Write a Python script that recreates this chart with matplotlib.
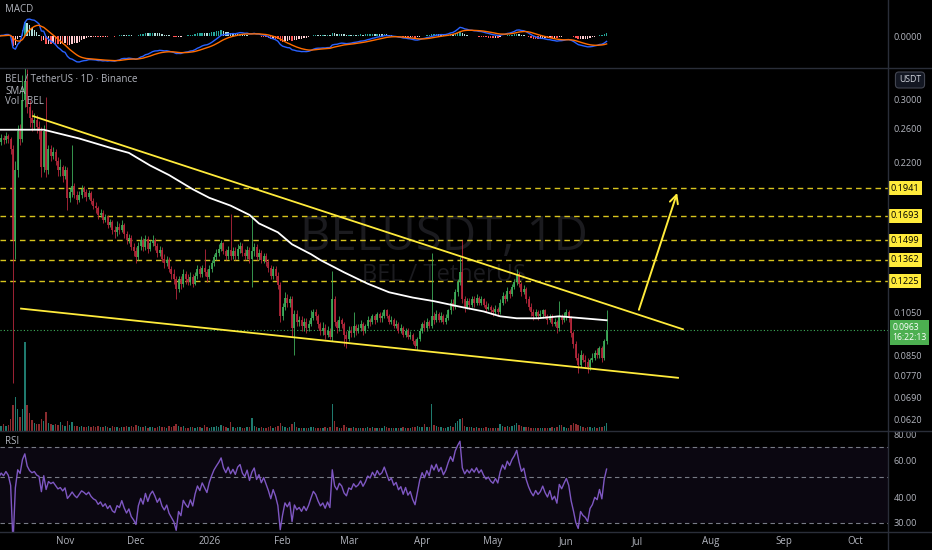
import matplotlib
matplotlib.use("Agg")
import matplotlib.pyplot as plt
from matplotlib.lines import Line2D
from matplotlib.ticker import NullLocator
import numpy as np
import pandas as pd

plt.rcParams['font.family'] = ['Open Sans', 'DejaVu Sans']

# daily candles BEL/USDT, first bar 2025-10-04
start = pd.Timestamp('2025-10-04')

closes = [
    0.244, 0.249, 0.246, 0.251, 0.247, 0.236, 0.150, 0.212, 0.258, 0.248,
    0.300, 0.330, 0.290, 0.275, 0.268, 0.272, 0.262, 0.258, 0.215, 0.258,
    0.212, 0.235, 0.228, 0.232, 0.222, 0.212, 0.215, 0.206, 0.212, 0.185,
    0.190, 0.196, 0.188, 0.183, 0.188, 0.193, 0.190, 0.186, 0.189, 0.182,
    0.178, 0.176, 0.170, 0.172, 0.166, 0.168, 0.162, 0.164, 0.158, 0.156,
    0.160, 0.158, 0.162, 0.155, 0.150, 0.152, 0.145, 0.142, 0.138, 0.146,
    0.150, 0.145, 0.151, 0.144, 0.148, 0.150, 0.146, 0.141, 0.143, 0.137,
    0.134, 0.136, 0.130, 0.127, 0.124, 0.118, 0.124, 0.121, 0.127, 0.124,
    0.122, 0.125, 0.121, 0.126, 0.130, 0.127, 0.131, 0.128, 0.125, 0.130,
    0.134, 0.138, 0.141, 0.144, 0.148, 0.142, 0.139, 0.143, 0.139, 0.142,
    0.139, 0.144, 0.146, 0.141, 0.139, 0.143, 0.137, 0.142, 0.145, 0.138,
    0.141, 0.136, 0.139, 0.135, 0.131, 0.126, 0.130, 0.126, 0.120, 0.103,
    0.108, 0.113, 0.110, 0.112, 0.097, 0.104, 0.100, 0.101, 0.098, 0.100,
    0.097, 0.099, 0.102, 0.105, 0.103, 0.099, 0.096, 0.097, 0.094, 0.096,
    0.093, 0.112, 0.100, 0.097, 0.101, 0.099, 0.094, 0.092, 0.096, 0.095,
    0.098, 0.096, 0.097, 0.099, 0.096, 0.098, 0.101, 0.100, 0.103, 0.101,
    0.104, 0.102, 0.103, 0.106, 0.103, 0.100, 0.101, 0.098, 0.099, 0.096,
    0.097, 0.094, 0.096, 0.093, 0.094, 0.091, 0.089, 0.092, 0.096, 0.099,
    0.097, 0.100, 0.098, 0.103, 0.101, 0.104, 0.101, 0.103, 0.100, 0.102,
    0.106, 0.110, 0.108, 0.116, 0.122, 0.128, 0.112, 0.108, 0.111, 0.109,
    0.112, 0.110, 0.113, 0.110, 0.112, 0.109, 0.107, 0.108, 0.106, 0.105,
    0.107, 0.105, 0.110, 0.114, 0.112, 0.117, 0.115, 0.119, 0.122, 0.127,
    0.121, 0.116, 0.118, 0.112, 0.108, 0.105, 0.103, 0.105, 0.103, 0.104,
    0.106, 0.103, 0.101, 0.103, 0.099, 0.100, 0.097, 0.103, 0.101, 0.103,
    0.105, 0.102, 0.095, 0.090, 0.084, 0.081, 0.085, 0.083, 0.082, 0.080,
    0.083, 0.084, 0.086, 0.085, 0.088, 0.084, 0.091, 0.0963,
]
highs = [
    0.250, 0.254, 0.252, 0.256, 0.254, 0.250, 0.240, 0.222, 0.265, 0.266,
    0.340, 0.365, 0.350, 0.300, 0.285, 0.282, 0.278, 0.270, 0.262, 0.265,
    0.305, 0.240, 0.240, 0.238, 0.236, 0.226, 0.224, 0.218, 0.216, 0.215,
    0.194, 0.240, 0.199, 0.191, 0.191, 0.197, 0.196, 0.193, 0.192, 0.191,
    0.185, 0.181, 0.178, 0.175, 0.174, 0.171, 0.170, 0.167, 0.166, 0.161,
    0.165, 0.163, 0.166, 0.163, 0.157, 0.155, 0.154, 0.148, 0.145, 0.149,
    0.153, 0.152, 0.154, 0.153, 0.150, 0.154, 0.152, 0.148, 0.146, 0.145,
    0.140, 0.139, 0.138, 0.132, 0.130, 0.126, 0.126, 0.126, 0.130, 0.129,
    0.127, 0.128, 0.127, 0.128, 0.133, 0.132, 0.133, 0.144, 0.130, 0.133,
    0.136, 0.140, 0.144, 0.147, 0.150, 0.149, 0.144, 0.146, 0.171, 0.145,
    0.145, 0.147, 0.149, 0.148, 0.144, 0.146, 0.145, 0.170, 0.148, 0.147,
    0.144, 0.143, 0.141, 0.141, 0.137, 0.133, 0.132, 0.132, 0.128, 0.122,
    0.110, 0.116, 0.115, 0.114, 0.114, 0.106, 0.106, 0.103, 0.103, 0.102,
    0.102, 0.101, 0.106, 0.107, 0.107, 0.104, 0.100, 0.100, 0.099, 0.098,
    0.097, 0.129, 0.114, 0.101, 0.103, 0.102, 0.100, 0.096, 0.098, 0.098,
    0.105, 0.099, 0.099, 0.101, 0.100, 0.099, 0.103, 0.102, 0.104, 0.104,
    0.105, 0.105, 0.105, 0.107, 0.107, 0.104, 0.103, 0.102, 0.101, 0.100,
    0.099, 0.098, 0.097, 0.097, 0.096, 0.095, 0.092, 0.093, 0.097, 0.100,
    0.101, 0.102, 0.101, 0.141, 0.105, 0.106, 0.105, 0.105, 0.104, 0.104,
    0.107, 0.112, 0.112, 0.118, 0.124, 0.138, 0.150, 0.114, 0.113, 0.113,
    0.114, 0.114, 0.115, 0.114, 0.114, 0.113, 0.111, 0.110, 0.109, 0.108,
    0.109, 0.108, 0.112, 0.116, 0.115, 0.119, 0.118, 0.121, 0.124, 0.130,
    0.128, 0.122, 0.120, 0.119, 0.114, 0.110, 0.107, 0.107, 0.106, 0.106,
    0.107, 0.107, 0.104, 0.104, 0.104, 0.102, 0.101, 0.111, 0.104, 0.105,
    0.107, 0.106, 0.103, 0.096, 0.091, 0.086, 0.087, 0.086, 0.085, 0.084,
    0.084, 0.086, 0.087, 0.088, 0.089, 0.089, 0.092, 0.106,
]
lows = [
    0.236, 0.240, 0.241, 0.243, 0.242, 0.230, 0.074, 0.137, 0.205, 0.240,
    0.244, 0.290, 0.282, 0.262, 0.258, 0.260, 0.255, 0.248, 0.205, 0.210,
    0.205, 0.208, 0.222, 0.224, 0.218, 0.206, 0.206, 0.200, 0.203, 0.174,
    0.181, 0.186, 0.185, 0.179, 0.181, 0.185, 0.186, 0.182, 0.184, 0.179,
    0.175, 0.172, 0.167, 0.168, 0.163, 0.164, 0.159, 0.160, 0.155, 0.152,
    0.153, 0.155, 0.156, 0.152, 0.147, 0.148, 0.143, 0.139, 0.134, 0.136,
    0.143, 0.142, 0.143, 0.141, 0.142, 0.146, 0.143, 0.138, 0.139, 0.135,
    0.131, 0.132, 0.128, 0.124, 0.121, 0.112, 0.116, 0.118, 0.119, 0.121,
    0.120, 0.120, 0.119, 0.120, 0.124, 0.125, 0.125, 0.126, 0.122, 0.124,
    0.128, 0.132, 0.136, 0.139, 0.142, 0.140, 0.136, 0.137, 0.136, 0.137,
    0.136, 0.137, 0.141, 0.139, 0.136, 0.137, 0.134, 0.119, 0.139, 0.136,
    0.136, 0.134, 0.134, 0.132, 0.128, 0.124, 0.124, 0.123, 0.118, 0.100,
    0.101, 0.106, 0.108, 0.108, 0.093, 0.085, 0.098, 0.098, 0.096, 0.096,
    0.095, 0.096, 0.098, 0.101, 0.101, 0.097, 0.094, 0.094, 0.092, 0.093,
    0.092, 0.091, 0.098, 0.095, 0.096, 0.097, 0.089, 0.088, 0.091, 0.093,
    0.093, 0.094, 0.095, 0.096, 0.094, 0.095, 0.097, 0.098, 0.099, 0.099,
    0.100, 0.100, 0.100, 0.102, 0.102, 0.099, 0.099, 0.097, 0.097, 0.095,
    0.095, 0.093, 0.093, 0.092, 0.092, 0.090, 0.088, 0.087, 0.091, 0.095,
    0.096, 0.096, 0.097, 0.097, 0.099, 0.100, 0.100, 0.100, 0.099, 0.099,
    0.101, 0.104, 0.106, 0.107, 0.114, 0.120, 0.110, 0.105, 0.107, 0.107,
    0.108, 0.108, 0.109, 0.109, 0.109, 0.108, 0.105, 0.106, 0.104, 0.103,
    0.104, 0.103, 0.104, 0.109, 0.110, 0.111, 0.113, 0.114, 0.118, 0.120,
    0.119, 0.114, 0.115, 0.110, 0.106, 0.103, 0.101, 0.102, 0.101, 0.102,
    0.102, 0.102, 0.099, 0.100, 0.098, 0.098, 0.095, 0.096, 0.099, 0.100,
    0.101, 0.100, 0.093, 0.088, 0.083, 0.078, 0.080, 0.082, 0.080, 0.078,
    0.079, 0.082, 0.083, 0.084, 0.084, 0.082, 0.083, 0.090,
]
first_open = 0.240

volumes = [
    6, 5, 7, 5, 6, 12, 26, 34, 22, 14,
    22, 89, 26, 18, 11, 8, 7, 7, 12, 10,
    19, 8, 7, 6, 7, 6, 9, 6, 5, 10,
    6, 9, 5, 5, 4, 5, 4, 4, 5, 4,
    5, 4, 5, 4, 4, 5, 4, 3, 5, 4,
    4, 3, 4, 4, 5, 4, 5, 4, 6, 5,
    4, 4, 5, 3, 4, 4, 3, 4, 5, 4,
    4, 3, 5, 4, 5, 7, 5, 4, 5, 3,
    3, 4, 4, 3, 4, 4, 3, 6, 4, 3,
    4, 4, 5, 4, 6, 5, 4, 3, 9, 4,
    3, 4, 4, 3, 3, 4, 4, 13, 5, 4,
    3, 4, 3, 3, 4, 5, 3, 4, 5, 8,
    5, 4, 3, 4, 7, 9, 4, 3, 3, 3,
    3, 3, 4, 4, 3, 3, 3, 3, 4, 3,
    4, 27, 10, 4, 3, 3, 6, 4, 3, 3,
    4, 3, 3, 3, 3, 3, 4, 3, 4, 3,
    3, 3, 3, 5, 4, 3, 3, 3, 3, 3,
    3, 4, 3, 3, 3, 4, 4, 5, 4, 4,
    7, 4, 4, 27, 6, 5, 4, 4, 3, 3,
    4, 5, 4, 8, 10, 12, 13, 5, 4, 4,
    4, 3, 4, 3, 3, 3, 4, 3, 3, 3,
    3, 3, 7, 5, 4, 5, 4, 5, 6, 8,
    6, 5, 4, 4, 4, 3, 3, 3, 3, 3,
    3, 3, 3, 3, 4, 3, 4, 6, 6, 4,
    3, 3, 6, 8, 7, 6, 5, 4, 3, 4,
    4, 3, 4, 3, 4, 4, 5, 8,
]

sma_idx = [0, 19, 34, 47, 55, 64, 72, 82, 89, 98, 106, 110, 118, 124, 132,
           136, 146, 156, 165, 175, 184, 195, 205, 212, 219, 228, 237, 247, 257]
sma_val = [0.259, 0.259, 0.248, 0.237, 0.231, 0.217, 0.207, 0.193, 0.185, 0.178,
           0.170, 0.163, 0.156, 0.147, 0.140, 0.136, 0.128, 0.121, 0.116, 0.113,
           0.111, 0.108, 0.1055, 0.103, 0.102, 0.102, 0.103, 0.102, 0.101]

levels = [0.1941, 0.1693, 0.1499, 0.1362, 0.1225]
last_price = 0.0963
price_ticks = [0.3000, 0.2600, 0.2200, 0.1050, 0.0850, 0.0770, 0.0690, 0.0620]
rsi_ticks = [80, 60, 40, 30]
rsi_seed = 0.004

# drawn lines (bar index, price)
upper_line = ([14.5, 289.3], [0.277, 0.0966])
lower_line = ([9.4, 287.2], [0.107, 0.0760])
arrow_from = (270.3, 0.105)
arrow_to = (287.2, 0.192)

months = ['2025-11-01', '2025-12-01', '2026-01-01', '2026-02-01', '2026-03-01',
          '2026-04-01', '2026-05-01', '2026-06-01', '2026-07-01', '2026-08-01',
          '2026-09-01', '2026-10-01']
month_labels = ['Nov', 'Dec', '2026', 'Feb', 'Mar', 'Apr', 'May', 'Jun', 'Jul',
                'Aug', 'Sep', 'Oct']

# ---------------------------------------------------------------
close = pd.Series(closes)
opens = [first_open] + closes[:-1]
x = np.arange(len(closes))
up = np.array(closes) >= np.array(opens)

UP, DN = '#3fae5a', '#b8283c'
TXT = '#b2b5be'
SEP = '#2a2e39'
YEL = '#ffeb3b'
FS = 6.6

W, H = 932, 550
fig = plt.figure(figsize=(W / 100, H / 100), dpi=100, facecolor='black')


def box(top, bottom):
    return [0, 1 - bottom / H, 888 / W, (bottom - top) / H]


ax_macd = fig.add_axes(box(0, 68))
ax = fig.add_axes(box(68, 431), sharex=ax_macd)
ax_rsi = fig.add_axes(box(432, 532), sharex=ax_macd)

# volume lives on a hidden twin of the price pane
axv = ax.twinx()
axv.set_ylim(0, 363)
axv.bar(x, volumes, width=0.6, color=np.where(up, '#1f7a6e', '#8a2b2f'), linewidth=0)
axv.axis('off')
ax.set_zorder(axv.get_zorder() + 1)

for a in (ax_macd, ax, ax_rsi):
    a.set_facecolor('black')
    for s in a.spines.values():
        s.set_visible(False)
    a.yaxis.tick_right()
    a.tick_params(axis='y', length=0, labelsize=FS, colors=TXT, pad=4,
                  labelleft=False, labelright=True)
    a.tick_params(axis='x', length=0, labelbottom=False)
ax.patch.set_visible(False)

ax.set_xlim(0.5, 376)

# candles
cols = np.where(up, UP, DN)
ax.vlines(x, lows, highs, colors=cols, lw=0.6, zorder=3)
ax.vlines(x, opens, closes, colors=cols, lw=1.25, zorder=3)

ax.set_yscale('log')
ax.set_ylim(0.05843, 0.3514)
ax.yaxis.set_minor_locator(NullLocator())
ax.set_yticks(price_ticks)
ax.set_yticklabels([f'{p:.4f}' for p in price_ticks])

ax.plot(sma_idx, sma_val, color='white', lw=1.3, zorder=4)

for lv in levels:
    ax.axhline(lv, color='#d8c41e', lw=1, ls=(0, (4, 3)), zorder=2)
    ax.text(1.003, lv, f'{lv:.4f}', transform=ax.get_yaxis_transform(),
            va='center', ha='left', fontsize=FS, color='black',
            bbox=dict(boxstyle='square,pad=0.25', fc=YEL, ec='none'))

ax.axhline(last_price, color=UP, lw=0.8, ls=(0, (1, 2)), zorder=2)
ax.annotate(f'{last_price:.4f}\n16:22:13', xy=(1, last_price),
            xycoords=ax.get_yaxis_transform(), xytext=(3, 5),
            textcoords='offset points', va='top', ha='left', fontsize=6.2,
            color='white', linespacing=1.15,
            bbox=dict(boxstyle='square,pad=0.3', fc='#4caf50', ec='none'))

ax.plot(*upper_line, color=YEL, lw=1.3, zorder=5)
ax.plot(*lower_line, color=YEL, lw=1.3, zorder=5)
ax.annotate('', xy=arrow_to, xytext=arrow_from,
            arrowprops=dict(arrowstyle='->,head_length=0.6,head_width=0.3',
                            color=YEL, lw=1.4), zorder=5)

ax.text(0.5, 0.535, 'BELUSDT, 1D', transform=ax.transAxes, ha='center',
        va='center', fontsize=34, color='#1b1b1f', zorder=0)
ax.text(0.5, 0.43, 'BEL / TetherUS', transform=ax.transAxes, ha='center',
        va='center', fontsize=17, color='#1b1b1f', zorder=0)

# MACD 12/26/9
macd = close.ewm(span=12, adjust=False).mean() - close.ewm(span=26, adjust=False).mean()
signal = macd.ewm(span=9, adjust=False).mean()
hist = macd - signal
hcol = []
for i, h in enumerate(hist):
    prev = hist[i - 1] if i else 0
    if h >= 0:
        hcol.append('#26a69a' if h >= prev else '#b2dfdb')
    else:
        hcol.append('#ff5252' if h < prev else '#ffcdd2')
ax_macd.bar(x, hist, width=0.6, color=hcol, linewidth=0)
ax_macd.plot(x, macd, color='#2962ff', lw=1)
ax_macd.plot(x, signal, color='#ff6d00', lw=1)
k = -macd.min() / 26
ax_macd.set_ylim(-32 * k, 36 * k)
ax_macd.set_yticks([0])
ax_macd.set_yticklabels(['0.0000'])

# RSI 14
delta = close.diff()
delta[0] = 0
gain = delta.clip(lower=0)
loss = -delta.clip(upper=0)
gain[0] = rsi_seed
loss[0] = rsi_seed
ag = gain.ewm(alpha=1 / 14, adjust=False).mean()
al = loss.ewm(alpha=1 / 14, adjust=False).mean()
rsi = 100 - 100 / (1 + ag / al)

ax_rsi.axhspan(30, 70, color='#7e57c2', alpha=0.09, lw=0)
for lv in (70, 50, 30):
    ax_rsi.axhline(lv, color='#787b86', lw=0.8, ls=(0, (4, 3)))
ax_rsi.plot(x, rsi, color='#7e57c2', lw=1)
ax_rsi.set_yscale('log')
ax_rsi.set_ylim(27.1, 82.7)
ax_rsi.yaxis.set_minor_locator(NullLocator())
ax_rsi.set_yticks(rsi_ticks)
ax_rsi.set_yticklabels([f'{v:.2f}' for v in rsi_ticks])

month_idx = [(pd.Timestamp(m) - start).days for m in months]
ax_rsi.set_xticks(month_idx)
ax_rsi.set_xticklabels(month_labels)
ax_rsi.tick_params(axis='x', labelbottom=True, labelsize=FS + 0.4, colors=TXT, pad=3)

# pane separators and headers
for yy in (68, 431, 532):
    fig.add_artist(Line2D([0, 1], [1 - yy / H] * 2, color=SEP, lw=1))
fig.add_artist(Line2D([888 / W] * 2, [0, 1], color=SEP, lw=1))

fig.text(5 / W, 1 - 10 / H, 'MACD', va='center', fontsize=7, color=TXT)
fig.text(5 / W, 1 - 80 / H, 'BEL / TetherUS · 1D · Binance', va='center',
         fontsize=7, color=TXT)
fig.text(5 / W, 1 - 91 / H, 'SMA', va='center', fontsize=7, color=TXT)
fig.text(5 / W, 1 - 102 / H, 'Vol · BEL', va='center', fontsize=7, color=TXT)
fig.text(5 / W, 1 - 442 / H, 'RSI', va='center', fontsize=7, color=TXT)
fig.text(910 / W, 1 - 80 / H, 'USDT', ha='center', va='center', fontsize=6.3,
         color='#d1d4dc',
         bbox=dict(boxstyle='round,pad=0.4', fc='#131722', ec='#434651', lw=0.8))

fig.savefig('out.png', dpi=100, facecolor='black')
